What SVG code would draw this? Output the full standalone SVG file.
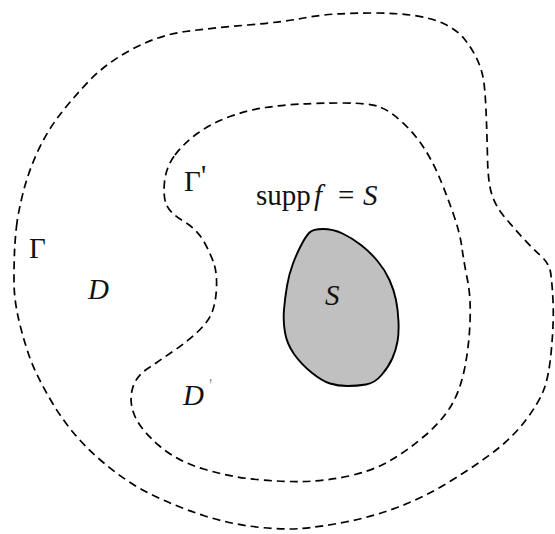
<svg xmlns="http://www.w3.org/2000/svg" width="555" height="534" viewBox="0 0 555 534">
<style>
.dash{fill:none;stroke:#000;stroke-width:1.7;stroke-dasharray:8 5}
.blob{fill:#c0c0c0;stroke:#000;stroke-width:1.9}
text{font-family:"Liberation Serif","Times New Roman",serif;font-size:29px;fill:#111}
.i{font-style:italic}
</style>
<rect width="555" height="534" fill="#fff"/>
<g id="curves">
<path id="outer" class="dash" d="M16.5,226.5 Q18,213 23,193 Q28,173 37,153 Q46,133 58.5,116.5 Q71,100 88.5,81.5 Q106,63 132.5,49 Q159,35 185.5,31.5 Q212,28 247.5,25 Q283,22 301,18.5 Q319,15 336.5,14 Q354,13 375,13 Q396,13 414,15.5 Q432,18 444.5,24 Q457,30 464,38.5 Q471,47 476,57 Q481,67 483,77 Q485,87 486,110 Q487,133 487.5,158 Q488,183 492,195 Q496,207 504.5,217 Q513,227 522,237 Q531,247 540,255 Q549,263 550.5,272 Q552,281 553,300.5 Q554,320 551.5,348.5 Q549,377 543.5,390.5 Q538,404 525.5,420.5 Q513,437 495.5,450.5 Q478,464 451.5,480.5 Q425,497 398.5,507 Q372,517 345.5,522 Q319,527 301,528.5 Q283,530 256.5,527 Q230,524 203.5,515.5 Q177,507 150.5,494 Q124,481 97.5,457.5 Q71,434 53,404 Q35,374 28,352.5 Q21,331 17.5,314 Q14,297 14,280.5 Q14,264 14.5,252 Q15,240 16.5,226.5 Z"/>
<path id="inner" class="dash" d="M175,155 Q184,143 198,133 Q212,123 230,116.5 Q248,110 265.5,107.5 Q283,105 301,104 Q319,103 343.5,103 Q368,103 378.5,106.5 Q389,110 401.5,121.5 Q414,133 423,146.5 Q432,160 439,176.5 Q446,193 453,213 Q460,233 462,248 Q464,263 467.5,280 Q471,297 470,322 Q469,347 464.5,369 Q460,391 451,406 Q442,421 424.5,436 Q407,451 389.5,461 Q372,471 349,476 Q326,481 304.5,481.5 Q283,482 256.5,479.5 Q230,477 203.5,469 Q177,461 159.5,446 Q142,431 135.5,417.5 Q129,404 132,390.5 Q135,377 147,369 Q159,361 173.5,351 Q188,341 198.5,331 Q209,321 212.5,311 Q216,301 216.5,287.5 Q217,274 214.5,265.5 Q212,257 205,243.5 Q198,230 184,221.5 Q170,213 166.5,205 Q163,197 164.5,182 Q166,167 175,155 Z"/>
</g>
<g id="S-region">
<path class="blob" d="M323,229 Q333,229 342.5,233.5 Q352,238 361,245 Q370,252 377.5,261 Q385,270 389.5,280 Q394,290 396,300 Q398,310 398.5,321.5 Q399,333 397.5,341.5 Q396,350 392.5,358 Q389,366 382,374.5 Q375,383 366,384.5 Q357,386 347.5,386 Q338,386 330,383.5 Q322,381 311.5,372.5 Q301,364 294,354 Q287,344 285,332.5 Q283,321 284,309.5 Q285,298 287,286 Q289,274 293,263.5 Q297,253 301.5,244.5 Q306,236 309.5,232.5 Q313,229 323,229 Z"/>
<text class="i" x="325" y="305">S</text>
</g>
<g id="labels">
<text x="29" y="258">Γ</text>
<text x="184" y="191" font-size="28">Γ<tspan x="201" y="185">'</tspan></text>
<text x="256" y="205" font-size="28">supp<tspan class="i" x="314">f</tspan><tspan x="338">=</tspan><tspan class="i" x="363">S</tspan></text>
<text class="i" x="88" y="299">D</text>
<text x="183" y="405"><tspan class="i">D</tspan><tspan x="209" y="392" font-size="18" fill="#999">'</tspan></text>
</g>
</svg>
